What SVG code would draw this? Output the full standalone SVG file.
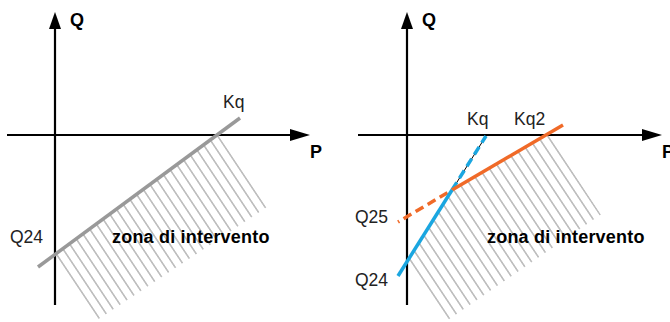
<svg xmlns="http://www.w3.org/2000/svg" width="670" height="322" viewBox="0 0 670 322">
<style>
.ax{stroke:#000;stroke-width:2.2;fill:none}
.ah{fill:#000}
.lbl{font-family:"Liberation Sans",Arial,sans-serif;font-size:17.5px;fill:#222}
.bold{font-family:"Liberation Sans",Arial,sans-serif;font-size:18px;font-weight:bold;fill:#000;letter-spacing:0.2px}
.hatch{fill:url(#hp)}
</style>
<defs>
<pattern id="hp" patternUnits="userSpaceOnUse" x="122" y="0" width="10" height="10" patternTransform="skewX(33.69)">
<line x1="5" y1="-1" x2="5" y2="11" stroke="#8a8a8a" stroke-width="1.1"/>
</pattern>
<clipPath id="cl"><polygon points="55,254.5 218,134.2 266.6,207.3 98.2,319.3"/></clipPath>
<clipPath id="cr"><polygon points="407,261.6 452,190 548,133.7 600.9,214.4 446.5,320.9"/></clipPath>
</defs>
<rect width="670" height="322" fill="#fff"/>
<g id="left-panel">
<rect class="hatch" x="0" y="0" width="335" height="322" clip-path="url(#cl)"/>
<g id="left-axes">
<line class="ax" x1="55" y1="26" x2="55" y2="305"/>
<polygon class="ah" points="55,12 49,29 61,29"/>
<line class="ax" x1="7" y1="135" x2="292" y2="135"/>
<polygon class="ah" points="310,135 290,129 290,141"/>
</g>
<line id="kq-left" x1="38" y1="267" x2="240" y2="118" stroke="#999" stroke-width="3.5"/>
<text class="bold" x="70" y="26">Q</text>
<text class="bold" x="310" y="158">P</text>
<text class="lbl" x="223" y="108">Kq</text>
<text class="lbl" x="10" y="243">Q24</text>
<text class="bold" x="112" y="243">zona di intervento</text>
</g>
<g id="right-panel">
<rect class="hatch" x="335" y="0" width="335" height="322" clip-path="url(#cr)"/>
<g id="right-axes">
<line class="ax" x1="407" y1="26" x2="407" y2="305"/>
<polygon class="ah" points="407,12 401,29 413,29"/>
<line class="ax" x1="358" y1="135" x2="644" y2="135"/>
<polygon class="ah" points="662,135 642,129 642,141"/>
</g>
<g id="connectors">
<line x1="452" y1="190" x2="486" y2="136" stroke="#000" stroke-width="1"/>
<line x1="452" y1="190" x2="486" y2="136" stroke="#1aa6e0" stroke-width="3.5" stroke-dasharray="9 5"/>
<line x1="398" y1="222" x2="452" y2="190" stroke="#f06a28" stroke-width="3.5" stroke-dasharray="1.5 5 9 5 9 5 9 5 9 5"/>
<line x1="452" y1="190" x2="563" y2="125" stroke="#f06a28" stroke-width="3.5"/>
<line x1="398" y1="276" x2="452" y2="190" stroke="#1aa6e0" stroke-width="3.5"/>
</g>
<text class="bold" x="422" y="26">Q</text>
<text class="bold" x="662" y="158">P</text>
<text class="lbl" x="467" y="125">Kq</text>
<text class="lbl" x="514" y="125">Kq2</text>
<text class="lbl" x="355" y="223">Q25</text>
<text class="lbl" x="355" y="286">Q24</text>
<text class="bold" x="487" y="243">zona di intervento</text>
</g>
</svg>
